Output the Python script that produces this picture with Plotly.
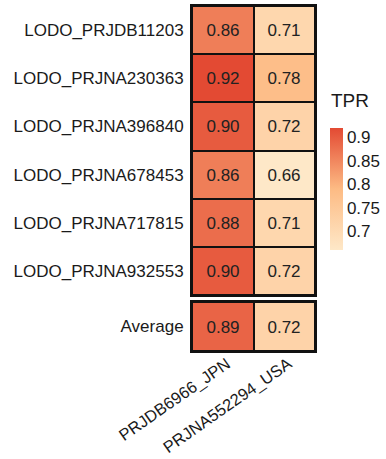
import plotly.graph_objects as go

rows = ["LODO_PRJDB11203", "LODO_PRJNA230363", "LODO_PRJNA396840",
        "LODO_PRJNA678453", "LODO_PRJNA717815", "LODO_PRJNA932553"]
cols = ["PRJDB6966_JPN", "PRJNA552294_USA"]
jpn = [0.86, 0.92, 0.90, 0.86, 0.88, 0.90]
usa = [0.71, 0.78, 0.72, 0.66, 0.71, 0.72]
avg_label = ["Average"]
avg = [0.89, 0.72]
cbar_ticks = [0.7, 0.75, 0.8, 0.85, 0.9]

W, H = 386, 459
font = "Liberation Sans, Arial, sans-serif"
TXT = "#1a1a1a"

z_main = [[a, b] for a, b in zip(jpn, usa)]
z_avg = [avg]

fig = go.Figure()
common = dict(coloraxis="coloraxis", xgap=2, ygap=2,
              texttemplate="%{z:.2f}",
              textfont=dict(family=font, size=17, color="#222222"),
              hoverinfo="skip")
fig.add_trace(go.Heatmap(z=z_main, x=cols, y=rows, xaxis="x", yaxis="y", **common))
fig.add_trace(go.Heatmap(z=z_avg, x=cols, y=avg_label, xaxis="x2", yaxis="y2", **common))

xl, xr = 192 / W, 315 / W
axline = dict(showline=True, linecolor="#111111", linewidth=2, mirror=True,
              showgrid=False, zeroline=False, fixedrange=True, automargin=False)
tf = dict(size=17, color=TXT)
fig.update_layout(
    width=W, height=H,
    margin=dict(l=0, r=0, t=0, b=0),
    paper_bgcolor="white",
    plot_bgcolor="#111111",
    font=dict(family=font, size=17, color=TXT),
    xaxis=dict(domain=[xl, xr], anchor="y", showticklabels=False, ticks="", **axline),
    yaxis=dict(domain=[1 - 295 / H, 1 - 6 / H], anchor="x", autorange="reversed",
               ticks="outside", ticklen=3, tickcolor="white", tickfont=tf, **axline),
    xaxis2=dict(domain=[xl, xr], anchor="y2", tickangle=-35, ticks="",
                ticklabelstandoff=-5, ticklabelshift=4,
                tickfont=dict(size=16.5, color=TXT), **axline),
    yaxis2=dict(domain=[1 - 351 / H, 1 - 302 / H], anchor="x2",
                ticks="outside", ticklen=3, tickcolor="white", tickfont=tf, **axline),
    coloraxis=dict(
        cmin=min(usa), cmax=max(jpn),
        colorscale=[[0, "#FEE8C8"], [0.5, "#FDBB84"], [1, "#E34A33"]],
        colorbar=dict(
            x=330 / W, xanchor="left", xpad=0, ypad=0,
            y=1 - 128 / H, yanchor="top",
            len=122 / H, lenmode="fraction",
            thickness=13, outlinewidth=0,
            tickvals=cbar_ticks, ticktext=[str(t) for t in cbar_ticks],
            ticks="", tickfont=dict(size=17, color=TXT),
        ),
    ),
    annotations=[dict(text="TPR", x=329 / W, y=1 - 101 / H, xref="paper", yref="paper",
                      xanchor="left", yanchor="middle", showarrow=False,
                      font=dict(size=19, color=TXT))],
)

fig.write_html("out.html")
